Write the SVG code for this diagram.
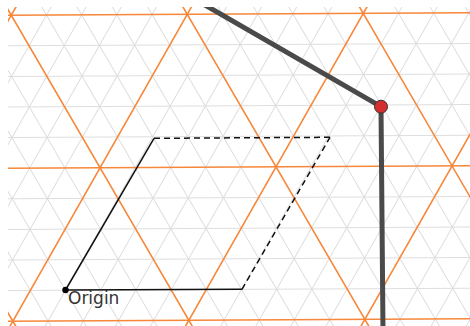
<svg xmlns="http://www.w3.org/2000/svg" width="470" height="326" viewBox="0 0 470 326">
<defs>
<clipPath id="view"><rect x="8" y="7" width="462" height="319"/></clipPath>
</defs>
<style>
.g line{stroke:#dedede;stroke-width:1}
.o line{stroke:#f7873a;stroke-width:1.6}
.solid{stroke:#111;stroke-width:1.5;fill:none}
.dash{stroke:#111;stroke-width:1.5;fill:none;stroke-dasharray:6 4}
.thick{stroke:#4a4a4a;stroke-width:5;fill:none}
.lbl{font-family:"DejaVu Sans",sans-serif;font-size:17px;fill:#333}
</style>
<rect width="470" height="326" fill="#fff"/>
<g clip-path="url(#view)">
<g transform="translate(65.5 290.3) rotate(-0.3)">
<g class="g">
<line x1="-120" y1="0" x2="460" y2="0"/>
<line x1="-120" y1="-30.6" x2="460" y2="-30.6"/>
<line x1="-120" y1="-61.2" x2="460" y2="-61.2"/>
<line x1="-120" y1="-91.8" x2="460" y2="-91.8"/>
<line x1="-120" y1="-153" x2="460" y2="-153"/>
<line x1="-120" y1="-183.6" x2="460" y2="-183.6"/>
<line x1="-120" y1="-214.2" x2="460" y2="-214.2"/>
<line x1="-120" y1="-244.8" x2="460" y2="-244.8"/>
<line x1="-210.5" y1="60" x2="8.1" y2="-320"/>
<line x1="-175.3" y1="60" x2="43.3" y2="-320"/>
<line x1="-140.1" y1="60" x2="78.5" y2="-320"/>
<line x1="-104.9" y1="60" x2="113.7" y2="-320"/>
<line x1="-34.5" y1="60" x2="184.1" y2="-320"/>
<line x1="0.7" y1="60" x2="219.3" y2="-320"/>
<line x1="35.9" y1="60" x2="254.5" y2="-320"/>
<line x1="71.1" y1="60" x2="289.7" y2="-320"/>
<line x1="141.5" y1="60" x2="360.1" y2="-320"/>
<line x1="176.7" y1="60" x2="395.3" y2="-320"/>
<line x1="211.9" y1="60" x2="430.5" y2="-320"/>
<line x1="247.1" y1="60" x2="465.7" y2="-320"/>
<line x1="317.5" y1="60" x2="536.1" y2="-320"/>
<line x1="352.7" y1="60" x2="571.3" y2="-320"/>
<line x1="387.9" y1="60" x2="606.5" y2="-320"/>
<line x1="-0.7" y1="60" x2="-219.3" y2="-320"/>
<line x1="34.5" y1="60" x2="-184.1" y2="-320"/>
<line x1="69.7" y1="60" x2="-148.9" y2="-320"/>
<line x1="104.9" y1="60" x2="-113.7" y2="-320"/>
<line x1="175.3" y1="60" x2="-43.3" y2="-320"/>
<line x1="210.5" y1="60" x2="-8.1" y2="-320"/>
<line x1="245.7" y1="60" x2="27.1" y2="-320"/>
<line x1="280.9" y1="60" x2="62.3" y2="-320"/>
<line x1="351.3" y1="60" x2="132.7" y2="-320"/>
<line x1="386.5" y1="60" x2="167.9" y2="-320"/>
<line x1="421.7" y1="60" x2="203.1" y2="-320"/>
<line x1="456.9" y1="60" x2="238.3" y2="-320"/>
<line x1="527.3" y1="60" x2="308.7" y2="-320"/>
<line x1="562.5" y1="60" x2="343.9" y2="-320"/>
<line x1="597.7" y1="60" x2="379.1" y2="-320"/>
</g>
<g class="o">
<line x1="-120" y1="30.6" x2="460" y2="30.6"/>
<line x1="-120" y1="-122.4" x2="460" y2="-122.4"/>
<line x1="-120" y1="-275.4" x2="460" y2="-275.4"/>
<line x1="-245.7" y1="60" x2="-27.1" y2="-320"/>
<line x1="-69.7" y1="60" x2="148.9" y2="-320"/>
<line x1="106.3" y1="60" x2="324.9" y2="-320"/>
<line x1="282.3" y1="60" x2="500.9" y2="-320"/>
<line x1="-35.9" y1="60" x2="-254.5" y2="-320"/>
<line x1="140.1" y1="60" x2="-78.5" y2="-320"/>
<line x1="316.1" y1="60" x2="97.5" y2="-320"/>
<line x1="492.1" y1="60" x2="273.5" y2="-320"/>
</g>
</g>
<g id="connectors">
<line class="solid" x1="65.5" y1="290" x2="242" y2="289.3"/>
<line class="solid" x1="65.5" y1="290" x2="154" y2="138.3"/>
<line class="dash" x1="154" y1="138.3" x2="330" y2="137.3"/>
<line class="dash" x1="242" y1="289.3" x2="330" y2="137.3"/>
<polyline class="thick" points="186.2,-5.8 381,106.7 383,330"/>
</g>
</g>
<g id="origin">
<circle cx="65.5" cy="290" r="3.2" fill="#000"/>
<text class="lbl" x="68" y="303.5">Origin</text>
</g>
<g id="point">
<circle cx="381" cy="106.7" r="6.5" fill="#d32f2f" stroke="#333" stroke-width="1"/>
</g>
</svg>
